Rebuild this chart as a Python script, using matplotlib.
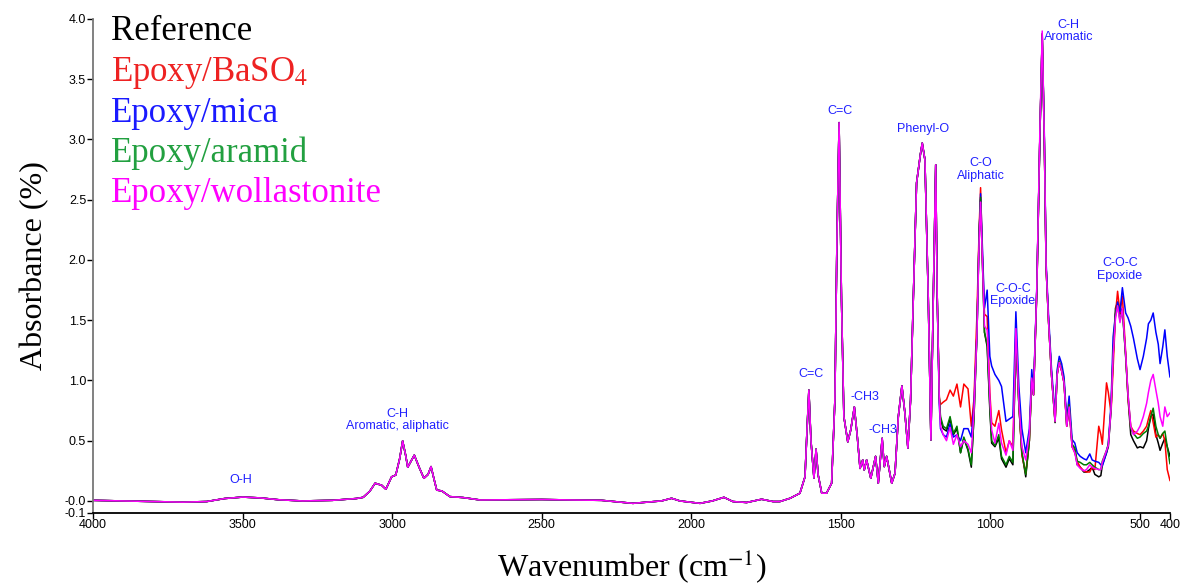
import matplotlib.pyplot as plt
import numpy as np

plt.rcParams['font.family'] = ['Liberation Sans', 'DejaVu Sans']
plt.rcParams['mathtext.fontset'] = 'stix'

# shared part of the spectra (4000 -> 1178 cm-1), all samples overlap here
wn_common = [4000, 3900, 3800, 3700, 3620, 3560, 3500, 3440, 3380, 3300, 3200, 3120,
             3097, 3075, 3057, 3035, 3021, 3002, 2988, 2975, 2965, 2955, 2948, 2926,
             2910, 2894, 2880, 2870, 2860, 2851, 2834, 2807, 2763, 2706, 2600, 2500,
             2400, 2300, 2195, 2100, 2066, 2038, 1971, 1930, 1891, 1861, 1815, 1765,
             1727, 1704, 1670, 1637, 1620, 1613, 1607, 1600, 1590, 1583, 1576, 1564,
             1548, 1531, 1520, 1513, 1506, 1498, 1490, 1477, 1467, 1455, 1445, 1436,
             1427, 1422, 1414, 1400, 1384, 1375, 1362, 1355, 1347, 1330, 1319, 1308,
             1296, 1286, 1276, 1267, 1258, 1247, 1241, 1234, 1228, 1219, 1208, 1199,
             1191, 1183, 1178]
abs_common = [0.005, 0.0, -0.005, -0.01, -0.005, 0.02, 0.032, 0.025, 0.01, 0.0, 0.005, 0.02,
              0.03, 0.08, 0.147, 0.13, 0.097, 0.20, 0.215, 0.35, 0.498, 0.38, 0.28, 0.38,
              0.28, 0.188, 0.22, 0.285, 0.18, 0.09, 0.083, 0.036, 0.028, 0.008, 0.01, 0.012,
              0.008, 0.005, -0.02, 0.0, 0.022, 0.0, -0.02, 0.0, 0.03, -0.005, -0.013, 0.014,
              -0.005, -0.005, 0.022, 0.064, 0.2, 0.6, 0.92, 0.5, 0.188, 0.43, 0.216, 0.064,
              0.064, 0.147, 0.84, 2.2, 3.14, 1.67, 0.70, 0.49, 0.59, 0.78, 0.53, 0.27,
              0.34, 0.257, 0.34, 0.188, 0.37, 0.147, 0.52, 0.285, 0.37, 0.147, 0.23, 0.70,
              0.955, 0.73, 0.437, 0.84, 1.67, 2.64, 2.75, 2.88, 2.97, 2.83, 1.7, 0.506,
              1.7, 2.79, 1.7]

# fingerprint region (1171 -> 400 cm-1), where the samples differ
wn_low = [1171, 1167, 1158, 1147, 1135, 1124, 1112, 1100, 1089, 1075, 1064, 1055, 1045,
          1038, 1033, 1027, 1020, 1011, 1002, 996, 985, 972, 963, 948, 937, 925, 915,
          905, 895, 882, 870, 862, 856, 845, 835, 827, 820, 814, 806, 796, 784, 777,
          770, 762, 754, 745, 737, 727, 718, 710, 700, 688, 679, 668, 660, 651, 638,
          631, 626, 612, 606, 597, 590, 582, 575, 567, 559, 548, 540, 531, 522, 509,
          500, 489, 478, 472, 464, 456, 447, 439, 433, 424, 417, 409, 400]

ref_low = [0.85, 0.68, 0.60, 0.58, 0.68, 0.55, 0.60, 0.40, 0.52, 0.42, 0.28, 0.70, 1.40,
           2.20, 2.50, 2.00, 1.40, 1.28, 0.75, 0.48, 0.45, 0.52, 0.35, 0.28, 0.35, 0.30, 1.35,
           0.80, 0.40, 0.20, 0.50, 1.00, 0.88, 1.75, 3.00, 3.88, 3.00, 1.94, 1.50, 1.05, 0.65, 1.05,
           1.15, 1.08, 0.98, 0.62, 0.78, 0.45, 0.42, 0.30, 0.28, 0.24, 0.24, 0.26, 0.28, 0.22, 0.20,
           0.21, 0.30, 0.40, 0.45, 0.75, 1.20, 1.60, 1.65, 1.55, 1.60, 1.20, 0.85, 0.55, 0.50, 0.44,
           0.45, 0.44, 0.50, 0.60, 0.70, 0.72, 0.55, 0.48, 0.42, 0.48, 0.52, 0.45, 0.37]

baso4_low = [0.86, 0.80, 0.82, 0.84, 0.92, 0.87, 0.97, 0.78, 0.97, 0.93, 0.62, 0.85, 1.56,
             2.25, 2.60, 2.05, 1.55, 1.53, 0.90, 0.65, 0.62, 0.75, 0.59, 0.40, 0.50, 0.45, 1.42,
             0.80, 0.38, 0.23, 0.50, 1.02, 0.88, 1.75, 3.00, 3.87, 3.00, 1.94, 1.50, 1.05, 0.66, 1.05,
             1.15, 1.08, 0.98, 0.62, 0.78, 0.45, 0.40, 0.33, 0.28, 0.25, 0.24, 0.24, 0.28, 0.26, 0.62,
             0.55, 0.47, 0.98, 0.90, 0.73, 1.10, 1.55, 1.74, 1.56, 1.70, 1.23, 0.85, 0.62, 0.58, 0.56,
             0.55, 0.58, 0.62, 0.68, 0.75, 0.65, 0.53, 0.55, 0.52, 0.56, 0.50, 0.26, 0.17]

mica_low = [0.80, 0.60, 0.55, 0.53, 0.64, 0.53, 0.55, 0.50, 0.60, 0.60, 0.53, 0.80, 1.40,
            2.20, 2.55, 2.10, 1.60, 1.75, 1.20, 1.12, 1.05, 1.00, 0.95, 0.66, 0.68, 0.70, 1.57,
            0.95, 0.60, 0.40, 0.60, 1.09, 0.92, 1.78, 3.00, 3.86, 3.05, 1.98, 1.55, 1.10, 0.71, 1.09,
            1.20, 1.14, 1.03, 0.67, 0.87, 0.51, 0.48, 0.40, 0.37, 0.35, 0.34, 0.39, 0.34, 0.33, 0.32,
            0.30, 0.29, 0.40, 0.48, 0.80, 1.36, 1.55, 1.65, 1.57, 1.77, 1.56, 1.52, 1.45, 1.35, 1.18,
            1.09, 1.20, 1.35, 1.47, 1.50, 1.56, 1.40, 1.30, 1.14, 1.28, 1.42, 1.20, 1.03]

aramid_low = [0.86, 0.70, 0.62, 0.60, 0.70, 0.56, 0.62, 0.40, 0.53, 0.43, 0.30, 0.70, 1.40,
              2.20, 2.52, 2.00, 1.40, 1.30, 0.78, 0.50, 0.46, 0.55, 0.37, 0.30, 0.37, 0.32, 1.36,
              0.80, 0.40, 0.22, 0.50, 1.00, 0.88, 1.75, 3.00, 3.87, 3.00, 1.94, 1.50, 1.05, 0.66, 1.06,
              1.16, 1.09, 0.99, 0.63, 0.80, 0.47, 0.44, 0.33, 0.32, 0.30, 0.30, 0.32, 0.30, 0.28, 0.26,
              0.26, 0.33, 0.42, 0.47, 0.76, 1.22, 1.55, 1.62, 1.50, 1.58, 1.20, 0.88, 0.60, 0.56, 0.52,
              0.53, 0.56, 0.58, 0.62, 0.70, 0.77, 0.62, 0.55, 0.52, 0.56, 0.58, 0.45, 0.31]

woll_low = [0.84, 0.62, 0.55, 0.50, 0.61, 0.47, 0.55, 0.45, 0.50, 0.47, 0.40, 0.75, 1.40,
            2.15, 2.48, 2.00, 1.45, 1.42, 0.85, 0.59, 0.48, 0.645, 0.48, 0.38, 0.50, 0.42, 1.43,
            0.82, 0.45, 0.34, 0.55, 1.02, 0.88, 1.77, 3.05, 3.90, 3.02, 1.95, 1.50, 1.05, 0.66, 1.05,
            1.15, 1.08, 0.98, 0.62, 0.78, 0.45, 0.40, 0.30, 0.27, 0.25, 0.26, 0.30, 0.28, 0.27, 0.26,
            0.26, 0.32, 0.42, 0.46, 0.76, 1.20, 1.52, 1.62, 1.48, 1.60, 1.22, 0.88, 0.62, 0.55, 0.58,
            0.62, 0.70, 0.81, 0.90, 1.00, 1.05, 0.92, 0.81, 0.70, 0.62, 0.78, 0.70, 0.73]

names = ['Reference', 'Epoxy/BaSO$_4$', 'Epoxy/mica', 'Epoxy/aramid', 'Epoxy/wollastonite']
lows = [ref_low, baso4_low, mica_low, aramid_low, woll_low]
line_colors = ['black', '#ff0000', '#0000ff', '#007a00', '#ff00ff']
text_colors = ['black', '#ee2222', '#1a1aff', '#22a040', '#ff00ff']

# peak labels: text, wavenumber, absorbance
peak_labels = [('O-H', 3505, 0.175),
               ('C-H\nAromatic, aliphatic', 2984, 0.67),
               ('C=C', 1600, 1.05),
               ('C=C', 1503, 3.24),
               ('-CH3', 1420, 0.86),
               ('-CH3', 1360, 0.59),
               ('Phenyl-O', 1226, 3.09),
               ('C-O\nAliphatic', 1031, 2.75),
               ('C-O-C\nEpoxide', 925, 1.71),
               ('C-H\nAromatic', 738, 3.9),
               ('C-O-C\nEpoxide', 567, 1.92)]

fig = plt.figure(figsize=(11.82, 5.86), dpi=100)
ax = fig.add_axes([0.0787, 0.1246, 0.9111, 0.843])

for name, low, c in zip(names, lows, line_colors):
    x = np.concatenate([wn_common, wn_low])
    y = np.concatenate([abs_common, low])
    ax.plot(x, y, color=c, lw=1.1, label=name)

for txt, w, a in peak_labels:
    ax.text(w, a, txt, color='#2020ff', fontsize=9, ha='center', va='center',
            linespacing=1.05)

ax.set_xlim(4000, 400)
ax.set_ylim(-0.1, 4.0)
ax.set_xticks([4000, 3500, 3000, 2500, 2000, 1500, 1000, 500, 400])
ax.set_yticks([-0.1, 0.0, 0.5, 1.0, 1.5, 2.0, 2.5, 3.0, 3.5, 4.0])
ax.set_yticklabels(['-0.1', '-0.0', '0.5', '1.0', '1.5', '2.0', '2.5', '3.0', '3.5', '4.0'])
ax.tick_params(labelsize=9, length=4, width=1, pad=1)
ax.tick_params(axis='x', pad=0)
for s in ['top', 'right']:
    ax.spines[s].set_visible(False)
ax.spines['left'].set_color('#777777')
ax.spines['left'].set_linewidth(1.3)
ax.spines['bottom'].set_linewidth(1.3)

ax.set_xlabel('Wavenumber (cm$^{-1}$)', family='Liberation Serif', fontsize=23, labelpad=12)
ax.set_ylabel('Absorbance (%)', family='Liberation Serif', fontsize=23, labelpad=11)

leg = ax.legend(loc='upper left', bbox_to_anchor=(0.0167, 1.008), frameon=False,
                borderpad=0, borderaxespad=0,
                handlelength=0, handletextpad=0, labelspacing=0.19,
                prop={'family': 'Liberation Serif', 'size': 25}, labelcolor=text_colors)
for h in leg.legend_handles:
    h.set_visible(False)

fig.savefig('out.png', dpi=100)
